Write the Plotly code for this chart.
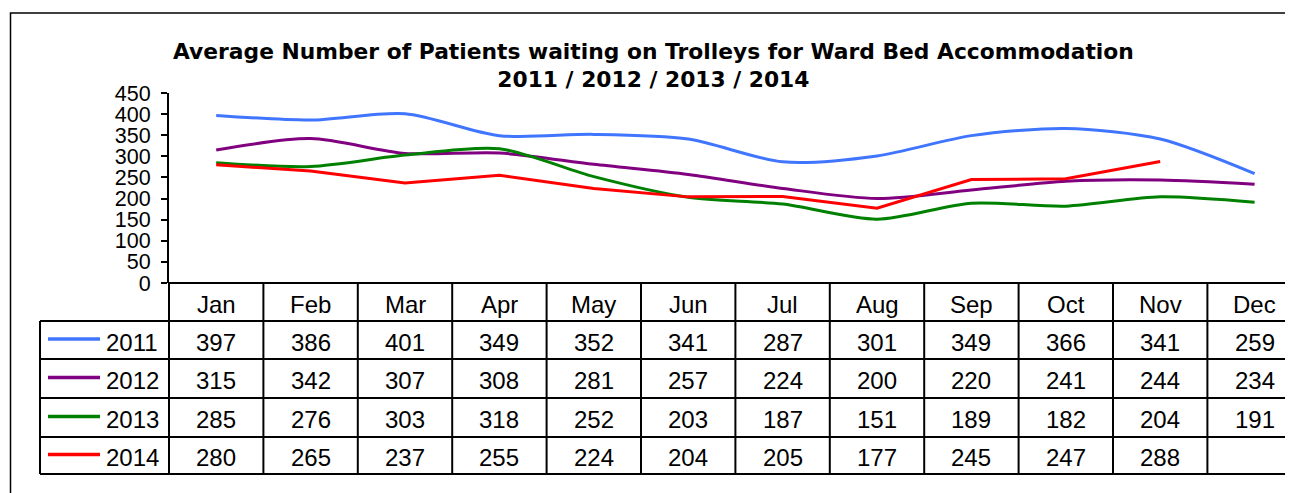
import plotly.graph_objects as go

months = ["Jan", "Feb", "Mar", "Apr", "May", "Jun", "Jul", "Aug", "Sep", "Oct", "Nov", "Dec"]
years = ["2011", "2012", "2013", "2014"]
s2011 = [397, 386, 401, 349, 352, 341, 287, 301, 349, 366, 341, 259]
s2012 = [315, 342, 307, 308, 281, 257, 224, 200, 220, 241, 244, 234]
s2013 = [285, 276, 303, 318, 252, 203, 187, 151, 189, 182, 204, 191]
s2014 = [280, 265, 237, 255, 224, 204, 205, 177, 245, 247, 288, None]
series = [s2011, s2012, s2013, s2014]
colors = ["#4076FF", "#800080", "#008000", "#FF0000"]
shapes_kind = ["spline", "spline", "spline", "linear"]
y_ticks = list(range(0, 451, 50))
title_l1 = "Average Number of Patients waiting on Trolleys for Ward Bed Accommodation"
title_l2 = "2011 / 2012 / 2013 / 2014"

FONT = "Liberation Sans, Arial, sans-serif"
TFONT = "DejaVu Sans, Liberation Sans, sans-serif"
OFF = 8  # page body margin in the browser
W, H = 1293 - OFF, 493 - OFF
ML, MR, MT, MB = 169 - OFF, 0, 93 - OFF, 493 - 474
PW = W - ML - MR
PH = H - MT - MB
COLW = 94.4  # px per month column
CHART_PX = 190  # px height of line chart
DOM = 1 - CHART_PX / PH

def px_x(px):
    return (px - OFF - ML) / PW

def px_y(py):
    return 1 - (py - OFF - MT) / PH

fig = go.Figure()
for name, vals, col, sh in zip(years, series, colors, shapes_kind):
    fig.add_trace(go.Scatter(
        x=months, y=vals, mode="lines", name=name,
        line=dict(color=col, width=3, shape=sh, smoothing=0.8),
        connectgaps=False, showlegend=False, xaxis="x", yaxis="y",
    ))

xmax = -0.5 + PW / COLW

fig.update_layout(
    width=W, height=H,
    margin=dict(l=ML, r=MR, t=MT, b=MB),
    paper_bgcolor="white", plot_bgcolor="white",
    font=dict(family=FONT, color="black"),
    xaxis=dict(type="category", categoryarray=months, range=[-0.5, xmax],
               showgrid=False, zeroline=False, showticklabels=False, ticks="",
               showline=False, anchor="y", fixedrange=True),
    yaxis=dict(domain=[DOM, 1], range=[0, 450], tickvals=y_ticks, showgrid=False,
               zeroline=False, showline=True, linecolor="black", linewidth=2,
               ticks="outside", ticklen=6, tickcolor="black", tickwidth=1.5,
               tickfont=dict(size=21.5, family=FONT, color="black"), ticklabelstandoff=6),
    yaxis2=dict(domain=[0, DOM], range=[5, 0], visible=False, anchor="x"),
)

fig.add_annotation(
    text="<b>" + title_l1 + "<br>" + title_l2 + "</b>",
    xref="paper", yref="paper", x=px_x(653), y=px_y(65), xanchor="center", yanchor="middle",
    showarrow=False, font=dict(size=21.8, family=TFONT, color="black"), align="center",
)

shapes = []
line_k = dict(color="black", width=2)
row_px = [283, 321, 359, 398, 437, 474]
shapes.append(dict(type="rect", xref="paper", yref="paper", x0=px_x(10.5), x1=px_x(1320),
                   y0=px_y(520), y1=px_y(13), line=dict(color="black", width=1.5)))
shapes.append(dict(type="line", xref="paper", yref="paper", x0=px_x(169), x1=px_x(1310),
                   y0=px_y(283), y1=px_y(283), line=line_k))
for r in row_px[1:]:
    shapes.append(dict(type="line", xref="paper", yref="paper", x0=px_x(40), x1=px_x(1310),
                       y0=px_y(r), y1=px_y(r), line=line_k))
for i in range(12):
    xp = px_x(169 + i * COLW)
    shapes.append(dict(type="line", xref="paper", yref="paper", x0=xp, x1=xp,
                       y0=px_y(283), y1=px_y(474), line=line_k))
shapes.append(dict(type="line", xref="paper", yref="paper", x0=px_x(40), x1=px_x(40),
                   y0=px_y(321), y1=px_y(474), line=line_k))

annos = []
for m in months:
    annos.append(dict(text=m, xref="x", yref="paper", x=m, y=px_y(304), yanchor="middle",
                      showarrow=False, font=dict(size=24, family=FONT, color="black")))
for ri, (name, vals, col) in enumerate(zip(years, series, colors)):
    rtop, rbot = row_px[ri + 1], row_px[ri + 2]
    ymid = (rtop + rbot) / 2
    shapes.append(dict(type="line", xref="paper", yref="paper", x0=px_x(48), x1=px_x(100),
                       y0=px_y(ymid - 1), y1=px_y(ymid - 1), line=dict(color=col, width=3.5)))
    annos.append(dict(text=name, xref="paper", yref="paper", x=px_x(132), y=px_y(ymid + 2),
                      xanchor="center", yanchor="middle", showarrow=False,
                      font=dict(size=24, family=FONT, color="black")))
    for m, v in zip(months, vals):
        if v is None:
            continue
        annos.append(dict(text=str(v), xref="x", yref="paper", x=m, y=px_y(ymid + 2),
                          xanchor="center", yanchor="middle", showarrow=False,
                          font=dict(size=24, family=FONT, color="black")))

fig.update_layout(shapes=shapes)
for a in annos:
    fig.add_annotation(**a)

fig.write_html("out.html")
